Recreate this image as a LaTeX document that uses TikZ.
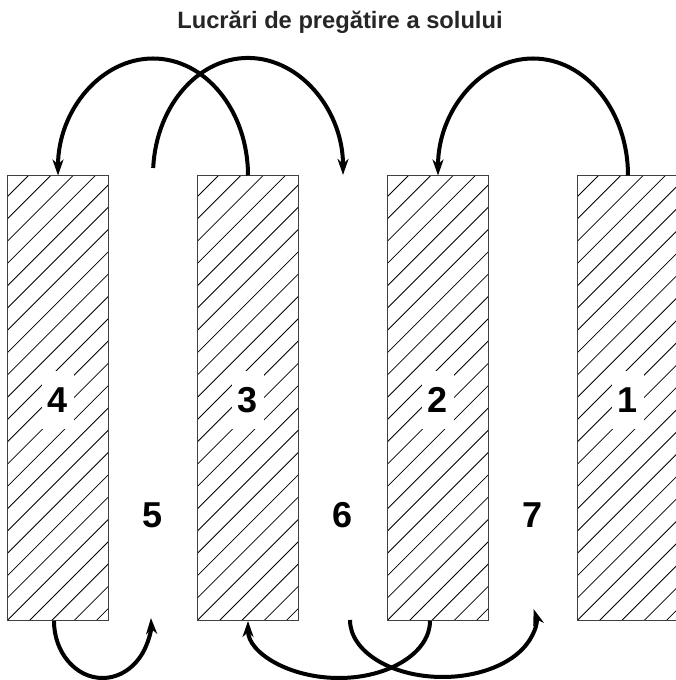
\documentclass[tikz,border=0pt]{standalone}
\usepackage{fontspec}
\setmainfont{Liberation Sans}
\usetikzlibrary{arrows.meta}
\begin{document}
\begin{tikzpicture}[x=1pt,y=1pt,
  bed/.style={draw=black!75, line width=1pt, minimum width=101pt, minimum height=445.5pt,
    inner sep=0pt, outer sep=0pt,
    path picture={\foreach \k in {0,...,26}{\draw[black, line width=0.8pt]
      ([xshift={21pt+\k*22.3pt}]path picture bounding box.north west) ++(-580pt,-580pt) -- ++(620pt,620pt);}}},
  num/.style={font=\bfseries\fontsize{36}{40}\selectfont, text height=26pt, text depth=0pt, anchor=base},
  numbox/.style={num, fill=white, inner xsep=5.5pt, inner ysep=16pt},
  arr/.style={line width=4pt, -{Stealth[length=16pt,width=11pt,inset=5pt]}},
  titlestyle/.style={font=\bfseries\fontsize{23.7}{28}\selectfont, anchor=base, text=black!85}]
\useasboundingbox (0,0) rectangle (676,680);
\clip (0,0) rectangle (676,680);

\node[titlestyle] (title) at (340,651.7) {Lucrări de pregătire a solului};

\node[bed] (r4) at (58,281.75) {};
\node[bed] (r3) at (248,281.75) {};
\node[bed] (r2) at (438,281.75) {};
\node[bed] (r1) at (628,281.75) {};

\node[numbox] (n4) at (58,267) {4};
\node[numbox] (n3) at (248,267) {3};
\node[numbox] (n2) at (438,267) {2};
\node[numbox] (n1) at (628,267) {1};

\node[num] (n5) at (153,152) {5};
\node[num] (n6) at (343,152) {6};
\node[num] (n7) at (533,152) {7};

\coordinate (s5) at (153.2,512);
\coordinate (s6) at (350,60);

% top arrows
\draw[arr] (r3.north) arc[start angle=0, end angle=180, x radius=95pt, y radius=117pt];
\draw[arr] (s5) arc[start angle=176.6, end angle=0, x radius=95pt, y radius=117pt];
\draw[arr] (r1.north) arc[start angle=0, end angle=180, x radius=95pt, y radius=117pt];

% bottom arrows
\draw[arr] ([xshift=-4pt]r4.south) arc[start angle=180, end angle=363, x radius=48.5pt, y radius=57pt];
\draw[arr] ([xshift=-8pt]r2.south) arc[start angle=0, end angle=-180, x radius=91pt, y radius=57pt];
\draw[arr] (s6) arc[start angle=180, end angle=371, x radius=92.7pt, y radius=57pt];
\end{tikzpicture}
\end{document}
